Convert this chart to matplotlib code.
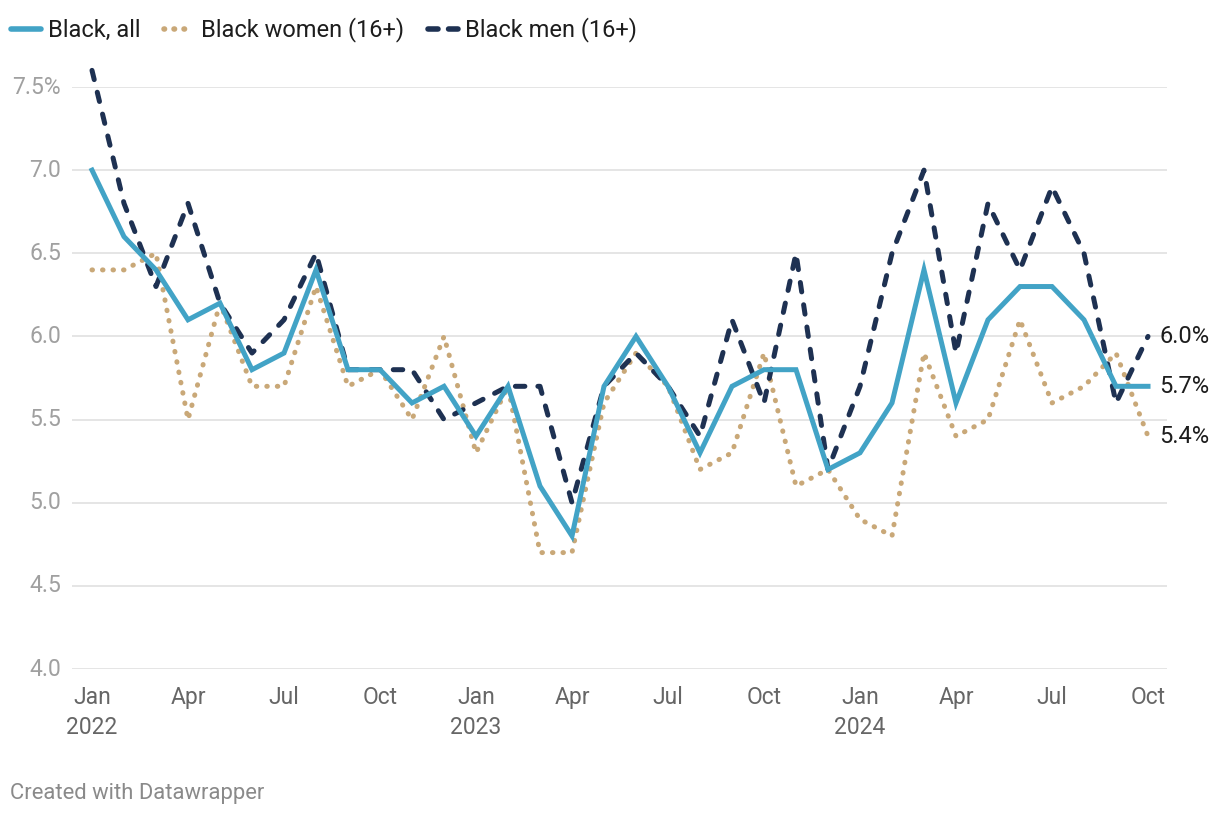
import matplotlib
matplotlib.use("Agg")
import matplotlib.pyplot as plt
from matplotlib.lines import Line2D

plt.rcParams['font.family'] = ['Roboto', 'DejaVu Sans']

months = ["Jan", "Feb", "Mar", "Apr", "May", "Jun", "Jul", "Aug", "Sep", "Oct", "Nov", "Dec"] * 2 + \
         ["Jan", "Feb", "Mar", "Apr", "May", "Jun", "Jul", "Aug", "Sep", "Oct"]
years = [2022] * 12 + [2023] * 12 + [2024] * 10

black_all = [7.0, 6.6, 6.4, 6.1, 6.2, 5.8, 5.9, 6.4, 5.8, 5.8, 5.6, 5.7,
             5.4, 5.7, 5.1, 4.8, 5.7, 6.0, 5.7, 5.3, 5.7, 5.8, 5.8, 5.2,
             5.3, 5.6, 6.4, 5.6, 6.1, 6.3, 6.3, 6.1, 5.7, 5.7]
black_women = [6.4, 6.4, 6.5, 5.5, 6.2, 5.7, 5.7, 6.3, 5.7, 5.8, 5.5, 6.0,
               5.3, 5.7, 4.7, 4.7, 5.6, 5.9, 5.7, 5.2, 5.3, 5.9, 5.1, 5.2,
               4.9, 4.8, 5.9, 5.4, 5.5, 6.1, 5.6, 5.7, 5.9, 5.4]
black_men = [7.6, 6.8, 6.3, 6.8, 6.2, 5.9, 6.1, 6.5, 5.8, 5.8, 5.8, 5.5,
             5.6, 5.7, 5.7, 5.0, 5.7, 5.9, 5.7, 5.4, 6.1, 5.6, 6.5, 5.2,
             5.7, 6.5, 7.0, 5.9, 6.8, 6.4, 6.9, 6.5, 5.6, 6.0]

yticks = [4.0, 4.5, 5.0, 5.5, 6.0, 6.5, 7.0, 7.5]
ytick_labels = ["4.0", "4.5", "5.0", "5.5", "6.0", "6.5", "7.0", "7.5%"]

C_ALL = "#42a3c6"
C_WOMEN = "#c9a878"
C_MEN = "#1e3152"

fig = plt.figure(figsize=(12.2, 8.16), dpi=100)
W, H = 1220, 816
ax = fig.add_axes([72 / W, 1 - 669 / H, (1167 - 72) / W, (669 - 87) / H])

x = list(range(len(black_all)))
lw = 3.6
ax.plot(x, black_women, color=C_WOMEN, lw=lw, linestyle=(0, (0.1, 2.0)),
        dash_capstyle='round', solid_capstyle='round', clip_on=False, zorder=3)
ax.plot(x, black_men, color=C_MEN, lw=lw, linestyle=(0, (1.9, 2.6)),
        dash_capstyle='round', clip_on=False, zorder=4)
ax.plot(x, black_all, color=C_ALL, lw=lw, solid_joinstyle='miter',
        clip_on=False, zorder=5)

ax.set_xlim(-20 / 32, 33 + 19 / 32)
ax.set_ylim(4.0, 7.5)

for s in ax.spines.values():
    s.set_visible(False)
ax.set_yticks(yticks)
ax.set_yticklabels(ytick_labels)
ax.yaxis.grid(True, color="#e3e3e3", lw=1.3)
ax.set_axisbelow(True)
ax.tick_params(axis='y', length=0, pad=8, labelsize=16.5, labelcolor="#a0a0a0")
for lab in ax.get_yticklabels():
    lab.set_verticalalignment('center')

tick_idx = [i for i, m in enumerate(months) if m in ("Jan", "Apr", "Jul", "Oct")]
tick_lab = [f"{months[i]}\n{years[i]}" if months[i] == "Jan" else months[i] for i in tick_idx]
ax.set_xticks(tick_idx)
ax.set_xticklabels(tick_lab, linespacing=1.38, va='top')
ax.tick_params(axis='x', length=0, pad=12.5, labelsize=16.5, labelcolor="#666666")

# end labels
last = len(black_all) - 1
for vals in (black_men, black_all, black_women):
    ax.annotate(f"{vals[-1]:.1f}%", xy=(last, vals[-1]), xytext=(8, 0),
                textcoords='offset points', va='center', ha='left',
                fontsize=17, color="#1d1d1d", annotation_clip=False)

handles = [
    Line2D([0], [0], color=C_ALL, lw=4, solid_capstyle='round'),
    Line2D([0], [0], color=C_WOMEN, lw=4, linestyle=(0, (0.1, 1.7)), dash_capstyle='round'),
    Line2D([0], [0], color=C_MEN, lw=4, linestyle=(0, (1.8, 1.9)), dash_capstyle='round'),
]
fig.legend(handles, ["Black, all", "Black women (16+)", "Black men (16+)"],
           loc='center left', bbox_to_anchor=(4 / W, 1 - 30 / H), ncol=3, frameon=False,
           fontsize=17, handlelength=1.27, handletextpad=0.3, columnspacing=1.0,
           labelcolor="#1d1d1d", borderaxespad=0, borderpad=0.3)

fig.text(10 / W, 1 - 793 / H, "Created with Datawrapper", fontsize=15.8,
         color="#8a8a8a", va='center', ha='left')

fig.savefig("out.png", dpi=100, facecolor="white")
